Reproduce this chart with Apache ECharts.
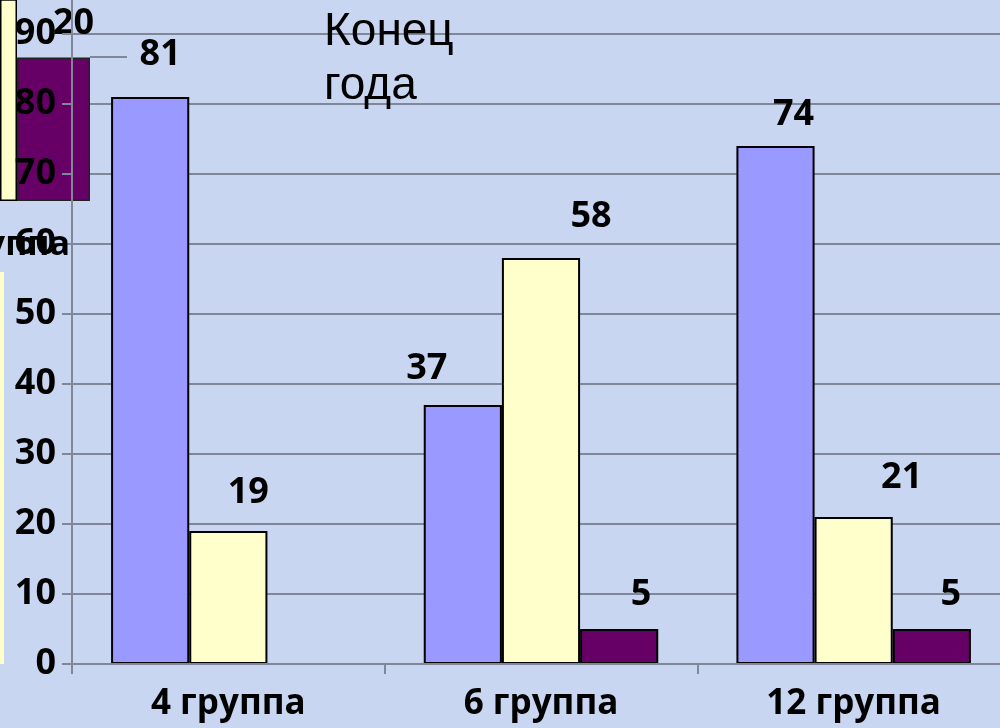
<!DOCTYPE html>
<html>
<head>
<meta charset="utf-8">
<script src="https://cdn.jsdelivr.net/npm/echarts@6/dist/echarts.min.js"></script>
<style>
html,body{margin:0;padding:0;background:#c9d6f1;}
#c{width:1000px;height:728px;}
</style>
</head>
<body>
<div id="c"></div>
<script>
// ---- data ----
const categories = ['4 группа', '6 группа', '12 группа'];
const seriesBlue = [81, 37, 74];
const seriesYellow = [19, 58, 21];
const seriesPurple = [0, 5, 5];
const yTicks = [0, 10, 20, 30, 40, 50, 60, 70, 80, 90];
// fragment of an overlapping chart in the top-left corner
const fragmentYellow = [30];
const fragmentPurple = [20];
const stripYellow = [1];
const chartTitle = 'Конец\nгода';
const fragmentText = 'группа';

// ---- label placement (styling, kept apart from values) ----
const labelDx = { blue: [10, -36, 18], yellow: [20, 50, 48], purple: [0, 22, 19] };
const labelRise = { blue: [44, 38, 33], yellow: [40, 43, 41], purple: [0, 36, 36] };

const FONT = '"Open Sans", "DejaVu Sans", sans-serif';
const GRID_COLOR = '#7f8799';

function items(values, key) {
  return values.map((v, i) => ({
    value: v,
    label: { offset: [labelDx[key][i], -labelRise[key][i] + 2] }
  }));
}
const valueLabel = {
  show: true, position: 'top', distance: 0, verticalAlign: 'middle',
  fontFamily: FONT, fontWeight: 'bold', fontSize: 36, color: '#000',
  formatter: p => (p.value === 0 ? '' : String(p.value))
};
function mainBar(name, values, key, color) {
  return {
    name, type: 'bar', xAxisIndex: 0, yAxisIndex: 0, z: 4,
    barGap: '0%', barCategoryGap: '25%',
    itemStyle: { color, borderColor: '#000', borderWidth: 2 },
    label: valueLabel,
    data: items(values, key)
  };
}

const chart = echarts.init(document.getElementById('c'), null, { renderer: 'canvas' });
chart.setOption({
  backgroundColor: '#c9d6f1',
  animation: false,
  title: {
    text: chartTitle, left: 324, top: 5, padding: 0,
    textStyle: { fontFamily: '"Liberation Sans", Arial, sans-serif', fontWeight: 'normal', fontSize: 46, lineHeight: 54, color: '#000' }
  },
  grid: [
    { left: 72, right: -10, top: -36, bottom: 64, outerBoundsMode: 'none' },
    { left: 0, width: 90, top: 0, bottom: 527, outerBoundsMode: 'none' },
    { left: 0, width: 4, top: 272, bottom: 64, outerBoundsMode: 'none' }
  ],
  xAxis: [
    {
      type: 'category', gridIndex: 0, data: categories, z: 5,
      axisLine: { lineStyle: { color: GRID_COLOR, width: 2 } },
      axisTick: { show: true, length: 10, lineStyle: { color: GRID_COLOR, width: 2 } },
      axisLabel: { margin: 23, fontFamily: FONT, fontWeight: 'bold', fontSize: 35, color: '#000' }
    },
    { type: 'category', gridIndex: 1, data: [''], show: false },
    { type: 'category', gridIndex: 2, data: [''], show: false }
  ],
  yAxis: [
    {
      type: 'value', gridIndex: 0, min: 0, max: 100, interval: 10, z: 0,
      axisLine: { show: false }, axisTick: { show: false }, axisLabel: { show: false },
      splitLine: { show: true, lineStyle: { color: GRID_COLOR, width: 2 } }
    },
    {
      type: 'value', gridIndex: 0, min: 0, max: 100, interval: 10, z: 5, position: 'left',
      axisLine: { show: true, lineStyle: { color: GRID_COLOR, width: 2 } },
      axisTick: { show: true, length: 10, lineStyle: { color: GRID_COLOR, width: 2 } },
      splitLine: { show: false },
      axisLabel: {
        margin: 16, fontFamily: FONT, fontWeight: 'bold', fontSize: 36, color: '#000',
        formatter: v => (yTicks.indexOf(v) >= 0 ? String(v) : '')
      }
    },
    { type: 'value', gridIndex: 1, min: 0, max: 28, show: false },
    { type: 'value', gridIndex: 2, min: 0, max: 1, show: false }
  ],
  graphic: [
    {
      type: 'line', z: 1, silent: true,
      shape: { x1: 90, y1: 57, x2: 127, y2: 57 },
      style: { stroke: GRID_COLOR, lineWidth: 2 }
    },
    {
      type: 'text', z: 6, silent: true, x: 70, y: 245,
      style: { text: fragmentText, align: 'right', verticalAlign: 'middle', font: 'bold 34px "Open Sans", sans-serif', fill: '#000' }
    }
  ],
  series: [
    mainBar('s1', seriesBlue, 'blue', '#9999ff'),
    mainBar('s2', seriesYellow, 'yellow', '#ffffcc'),
    mainBar('s3', seriesPurple, 'purple', '#660066'),
    {
      type: 'bar', xAxisIndex: 1, yAxisIndex: 2, z: 1, barGap: '0%', barWidth: 17,
      itemStyle: { color: '#ffffcc', borderColor: '#000', borderWidth: 1.5 },
      data: fragmentYellow
    },
    {
      type: 'bar', xAxisIndex: 1, yAxisIndex: 2, z: 1, barGap: '0%', barWidth: 73,
      itemStyle: { color: '#660066', borderColor: '#222', borderWidth: 1.5 },
      label: {
        show: true, position: 'top', distance: 0, verticalAlign: 'middle', offset: [20, -34],
        fontFamily: FONT, fontWeight: 'bold', fontSize: 36, color: '#000'
      },
      data: fragmentPurple
    },
    {
      type: 'bar', xAxisIndex: 2, yAxisIndex: 3, z: 1, barCategoryGap: '0%',
      itemStyle: { color: '#ffffcc' },
      data: stripYellow
    }
  ]
});
</script>
</body>
</html>
